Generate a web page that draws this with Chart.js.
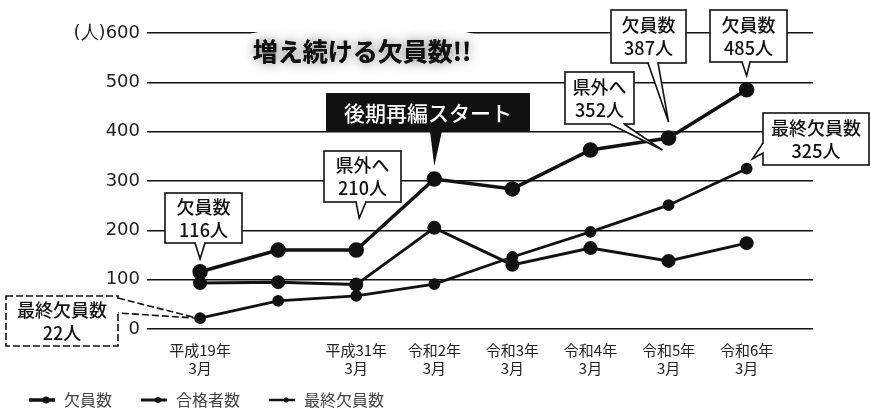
<!DOCTYPE html>
<html lang="ja">
<head>
<meta charset="utf-8">
<script src="https://cdn.jsdelivr.net/npm/chart.js@4.4.1/dist/chart.umd.min.js"></script>
<style>
  html, body { margin: 0; padding: 0; background: #fff; }
  #wrap { width: 871px; height: 410px; }
</style>
</head>
<body>
<div id="wrap"><canvas id="myChart"></canvas></div>
<script>
// 年度（1つ目と3つ目の間は目盛り名なし）
const years = [['平成19年', '3月'], '', ['平成31年', '3月'], ['令和2年', '3月'], ['令和3年', '3月'],
  ['令和4年', '3月'], ['令和5年', '3月'], ['令和6年', '3月']];
const vacancies = [116, 160, 160, 304, 284, 363, 387, 485];      // 欠員数
const passed = [93, 95, 90, 205, 130, 164, 138, 174];            // 合格者数
const finalVacancies = [22, 57, 67, 91, 146, 197, 251, 325];     // 最終欠員数
const outOfPref = [210, 352];                                    // 県外へ（平成31年, 令和5年）
const yMax = 600;
const yStep = 100;

const JP = '"Noto Sans CJK JP", "Noto Sans", sans-serif';
const INK = '#111';

const ctx = document.getElementById('myChart').getContext('2d');

// small line+dot symbols for the legend
function legendIcon(lw, r) {
  const c = document.createElement('canvas');
  c.width = 28; c.height = 12;
  const g = c.getContext('2d');
  g.strokeStyle = INK; g.fillStyle = INK; g.lineWidth = lw;
  g.beginPath(); g.moveTo(1, 6); g.lineTo(27, 6); g.stroke();
  g.beginPath(); g.arc(18, 6, r, 0, Math.PI * 2); g.fill();
  return c;
}
const icons = [legendIcon(3.5, 3.5), legendIcon(3, 3), legendIcon(2.5, 2.5)];

const toPoints = arr => arr.map((v, i) => ({x: i, y: v}));

// speech-bubble box with a tail pointing at the data
function bubble(g, b, base1, base2, tip, lines, dashed) {
  g.save();
  g.lineWidth = 1.6;
  g.strokeStyle = INK;
  g.fillStyle = '#fff';
  if (dashed) g.setLineDash([7, 3]);
  g.fillRect(b.x, b.y, b.w, b.h);
  g.strokeRect(b.x, b.y, b.w, b.h);
  g.beginPath();
  g.moveTo(base1[0], base1[1]); g.lineTo(tip[0], tip[1]); g.lineTo(base2[0], base2[1]);
  g.closePath();
  g.fill();
  // open the border where the tail starts
  g.save();
  g.setLineDash([]);
  g.strokeStyle = '#fff'; g.lineWidth = 3;
  const dx = Math.sign(base2[0] - base1[0]), dy = Math.sign(base2[1] - base1[1]);
  g.beginPath();
  g.moveTo(base1[0] + dx, base1[1] + dy); g.lineTo(base2[0] - dx, base2[1] - dy);
  g.stroke();
  g.restore();
  g.beginPath();
  g.moveTo(base1[0], base1[1]); g.lineTo(tip[0], tip[1]); g.lineTo(base2[0], base2[1]);
  g.stroke();
  g.setLineDash([]);
  g.fillStyle = INK;
  g.font = '500 18px ' + JP;
  g.textAlign = 'center';
  g.textBaseline = 'middle';
  const cx = b.x + b.w / 2, cy = b.y + b.h / 2;
  g.fillText(lines[0], cx, cy - 11);
  g.fillText(lines[1], cx, cy + 12);
  g.restore();
}

const notes = {
  id: 'notes',
  afterDatasetsDraw(chart) {
    const g = chart.ctx;
    const px = i => chart.scales.x.getPixelForValue(i);
    const py = v => chart.scales.y.getPixelForValue(v);

    // headline with a grainy halo
    g.save();
    g.fillStyle = '#fff';
    g.beginPath(); g.ellipse(362, 50, 140, 27, 0, 0, Math.PI * 2); g.fill();
    g.font = 'bold 25px ' + JP;
    g.textAlign = 'center'; g.textBaseline = 'middle';
    g.shadowColor = 'rgba(0,0,0,0.55)'; g.shadowBlur = 12;
    g.fillStyle = INK;
    g.fillText('増え続ける欠員数!!', 362, 51);
    g.shadowBlur = 0;
    g.fillText('増え続ける欠員数!!', 362, 51);
    g.restore();

    // 後期再編スタート
    g.save();
    g.fillStyle = INK;
    g.fillRect(326, 93, 204, 39);
    g.beginPath();
    g.moveTo(430, 131); g.lineTo(px(3), py(vacancies[3]) - 13); g.lineTo(442, 131);
    g.fill();
    g.fillStyle = '#fff';
    g.font = '500 21px ' + JP;
    g.textAlign = 'center'; g.textBaseline = 'middle';
    g.fillText('後期再編スタート', 428, 113);
    g.restore();

    bubble(g, {x: 165, y: 193, w: 77, h: 50}, [195, 243], [205, 243],
      [px(0), py(vacancies[0]) - 13], ['欠員数', vacancies[0] + '人']);
    bubble(g, {x: 324, y: 151, w: 77, h: 51}, [356, 202], [366, 202],
      [px(2) + 3, py(vacancies[2]) - 32], ['県外へ', outOfPref[0] + '人']);
    bubble(g, {x: 565, y: 72, w: 69, h: 52}, [610, 124], [624, 124],
      [px(6) - 6, py(vacancies[6]) + 12], ['県外へ', outOfPref[1] + '人']);
    bubble(g, {x: 611, y: 10, w: 75, h: 53}, [648, 63], [658, 63],
      [px(6), py(vacancies[6]) - 16], ['欠員数', vacancies[6] + '人']);
    bubble(g, {x: 710, y: 10, w: 77, h: 52}, [742, 62], [750, 62],
      [px(7), py(vacancies[7]) - 14], ['欠員数', vacancies[7] + '人']);
    bubble(g, {x: 763, y: 113, w: 106, h: 52}, [763, 143], [763, 153],
      [px(7) + 6, py(finalVacancies[7]) - 10], ['最終欠員数', finalVacancies[7] + '人']);
    bubble(g, {x: 6, y: 296, w: 112, h: 50}, [118, 298], [118, 313],
      [px(0) - 3, py(finalVacancies[0])], ['最終欠員数', finalVacancies[0] + '人'], true);
  }
};

const config = {
  type: 'line',
  data: {
    datasets: [
      {
        label: '欠員数',
        data: toPoints(vacancies),
        borderColor: INK, backgroundColor: INK,
        borderWidth: 3.5, pointRadius: 6, pointHoverRadius: 6,
      },
      {
        label: '合格者数',
        data: toPoints(passed),
        borderColor: INK, backgroundColor: INK,
        borderWidth: 3, pointRadius: 5.5, pointHoverRadius: 5.5,
      },
      {
        label: '最終欠員数',
        data: toPoints(finalVacancies),
        borderColor: INK, backgroundColor: INK,
        borderWidth: 2.8, pointRadius: 4.5, pointHoverRadius: 4.5,
      },
    ]
  },
  options: {
    responsive: true,
    maintainAspectRatio: false,
    animation: false,
    layout: { padding: { top: 33, right: 58, bottom: -8, left: 0 } },
    plugins: {
      tooltip: { enabled: false },
      legend: {
        position: 'bottom',
        align: 'start',
        labels: {
          usePointStyle: true,
          pointStyleWidth: 28,
          padding: 28,
          color: '#444',
          font: { family: JP, size: 16 },
          generateLabels: chart => chart.data.datasets.map((ds, i) => ({
            text: ds.label,
            pointStyle: icons[i],
            fillStyle: INK,
            strokeStyle: INK,
            lineWidth: 0,
            hidden: false,
            datasetIndex: i,
            fontColor: '#444',
          })),
        },
      },
    },
    scales: {
      x: {
        type: 'linear',
        min: -0.68,
        max: 7.85,
        grid: { display: false },
        border: { display: false },
        afterBuildTicks: scale => { scale.ticks = years.map((_, i) => ({value: i})); },
        afterFit: scale => { scale.height = 35; },
        ticks: {
          autoSkip: false,
          maxRotation: 0,
          // mirrored so the two-line labels are not clipped to the short axis box
          mirror: true,
          padding: -30,
          color: '#222',
          font: { family: JP, size: 15, lineHeight: 1.2 },
          callback: v => years[v],
        },
      },
      y: {
        min: 0,
        max: yMax,
        afterFit: scale => { scale.width = 147; },
        border: { display: false },
        grid: { color: INK, lineWidth: 1.4, drawTicks: false },
        ticks: {
          stepSize: yStep,
          padding: 7,
          color: '#222',
          font: { family: '"DejaVu Sans", sans-serif', size: 18 },
          callback: v => v === yMax ? '(人)' + v : v,
        },
      },
    },
  },
  plugins: [notes],
};

const myChart = new Chart(ctx, config);
</script>
</body>
</html>
